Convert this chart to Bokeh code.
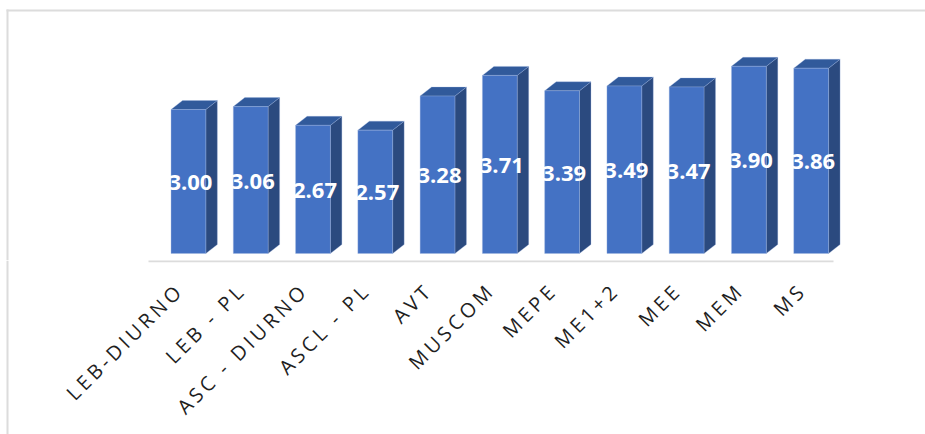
import math
from bokeh.core.properties import value
from bokeh.embed import file_html
from bokeh.layouts import column
from bokeh.models import BoxAnnotation, Range1d
from bokeh.plotting import figure
from bokeh.resources import INLINE

categories = ["LEB-DIURNO", "LEB - PL", "ASC - DIURNO", "ASCL - PL", "AVT", "MUSCOM",
              "MEPE", "ME1+2", "MEE", "MEM", "MS"]
scores = [3.00, 3.06, 2.67, 2.57, 3.28, 3.71, 3.39, 3.49, 3.47, 3.90, 3.86]
score_labels = ["3.00", "3.06", "2.67", "2.57", "3.28", "3.71", "3.39", "3.49", "3.47", "3.90", "3.86"]

FRONT = "#4472C4"
SIDE = "#2B4A7F"
ROOF = "#315A9B"
EDGE = "#9DB4E0"
FRAME = "#DCDCDC"

PX_PER_X = 685 / 11
PX_PER_Y = 48.0
BAR_SHIFT = 8.8 / PX_PER_X      # floor skew of the pseudo-3D columns
HALF_W = 17.4 / PX_PER_X
DEPTH_X = 11.5 / PX_PER_X
DEPTH_Y = 9 / PX_PER_Y
X_RANGE = (-148 / PX_PER_X, 777 / PX_PER_X)
LETTER_SPACING = 3.7


def frame_line(fig, **edges):
    fig.add_layout(BoxAnnotation(fill_color=FRAME, fill_alpha=1, line_color=FRAME, line_width=0,
                                 left_units="screen", right_units="screen",
                                 top_units="screen", bottom_units="screen", **edges))


def bare_figure(height, y_range, **kwargs):
    fig = figure(width=925, height=height, output_backend="svg", toolbar_location=None,
                 x_range=Range1d(*X_RANGE), y_range=y_range,
                 min_border_left=0, min_border_right=0, min_border_top=0, min_border_bottom=0,
                 **kwargs)
    fig.axis.visible = False
    fig.grid.visible = False
    fig.outline_line_color = None
    return fig


# Columns and their value labels
p = bare_figure(260, Range1d(-7 / PX_PER_Y, 253 / PX_PER_Y))

centres = [i + 0.5 + BAR_SHIFT for i in range(len(scores))]
lefts = [c - HALF_W for c in centres]
rights = [c + HALF_W for c in centres]

p.patches([[r, r + DEPTH_X, r + DEPTH_X, r] for r in rights],
          [[0, DEPTH_Y, s + DEPTH_Y, s] for s in scores],
          fill_color=SIDE, line_color=EDGE, line_alpha=0.3, line_width=1)
p.patches([[l, l + DEPTH_X, r + DEPTH_X, r] for l, r in zip(lefts, rights)],
          [[s, s + DEPTH_Y, s + DEPTH_Y, s] for s in scores],
          fill_color=ROOF, line_color=EDGE, line_alpha=0.3, line_width=1)
p.quad(left=lefts, right=rights, bottom=0, top=scores,
       fill_color=FRONT, line_color=EDGE, line_alpha=0.35, line_width=1)

p.text(x=[c + 2 / PX_PER_X for c in centres], y=[s / 2 for s in scores], text=score_labels,
       y_offset=1, text_color="white", text_font=value("Open Sans"), text_font_style="bold",
       text_font_size="22px", text_align="center", text_baseline="middle")

frame_line(p, left=6, right=925, bottom=249, top=251)
frame_line(p, left=6, right=8, bottom=0, top=251)

# Category labels, set in their own figure so only these are letter-spaced
axis_fig = bare_figure(174, Range1d(-173.4, 0.6), styles={"letter-spacing": f"{LETTER_SPACING}px"})
axis_fig.segment(x0=[0], x1=[len(categories)], y0=[0], y1=[0], line_color=FRAME, line_width=2.5)

# Right-aligned text is placed from its unspaced width, so pull each label back along its slant
diag = math.cos(math.pi / 4)
slack = [(len(c) - 1) * LETTER_SPACING * diag for c in categories]
axis_fig.text(x=[i + 0.5 for i in range(len(categories))], y=[0] * len(categories), text=categories,
              x_offset=[-2.5 - s for s in slack], y_offset=[28 + s for s in slack],
              angle=math.pi / 4, text_align="right", text_baseline="middle",
              text_font=value("Open Sans"), text_font_size="20px", text_color="#1F1F1F")

frame_line(axis_fig, left=6, right=8, bottom=0, top=174)

layout = column(p, axis_fig, spacing=0)
open("out.html", "w").write(file_html(layout, INLINE))
